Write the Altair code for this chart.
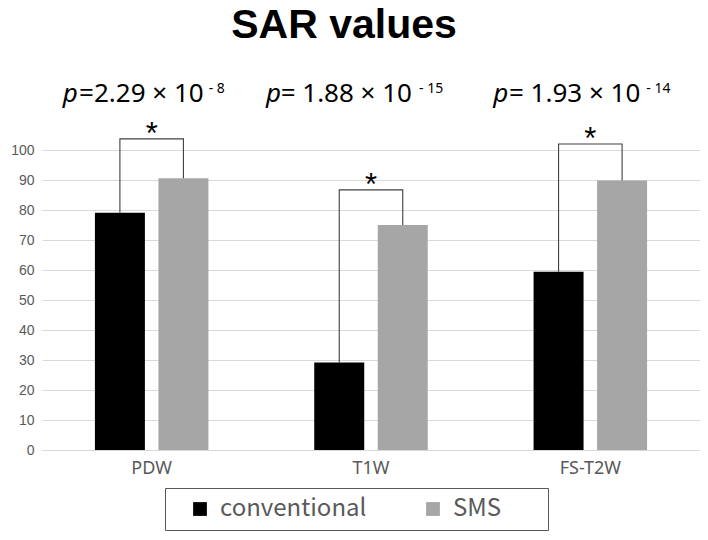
import altair as alt
import pandas as pd

categories = ["PDW", "T1W", "FS-T2W"]
series = ["conventional", "SMS"]
conventional = [79.1, 29.2, 59.4]
sms = [90.6, 75.0, 89.8]
bracket_top = [103.7, 86.7, 102.0]
p_mantissa = ["=2.29 × 10", "= 1.88 × 10", "= 1.93 × 10"]
p_exponent = ["- 8", "- 15", "- 14"]
p_label_level = [116.1, 116.1, 116.1]
y_ticks = list(range(0, 101, 10))

bars = pd.DataFrame(
    [{"category": c, "series": "conventional", "value": v} for c, v in zip(categories, conventional)]
    + [{"category": c, "series": "SMS", "value": v} for c, v in zip(categories, sms)]
)

bracket_rows = []
for c, cv, sv, bt in zip(categories, conventional, sms, bracket_top):
    bracket_rows += [
        {"category": c, "series": "conventional", "y": cv, "order": 0},
        {"category": c, "series": "conventional", "y": bt, "order": 1},
        {"category": c, "series": "SMS", "y": bt, "order": 2},
        {"category": c, "series": "SMS", "y": sv, "order": 3},
    ]
brackets = pd.DataFrame(bracket_rows)

stars = pd.DataFrame({"category": categories, "y": bracket_top, "star": ["*"] * 3})
plabels = pd.DataFrame({"category": categories, "y": p_label_level,
                        "mant": p_mantissa, "exp": p_exponent, "p": ["p"] * 3})

AXFONT = "Liberation Sans"
PFONT = "Noto Sans"
GREY = "#595959"

x_axis = alt.Axis(title=None, labelAngle=0, ticks=False, domain=True, domainColor="#d9d9d9",
                  labelFontSize=18, labelColor=GREY, labelFont="Noto Sans", labelPadding=9)
y_axis = alt.Axis(title=None, values=y_ticks, grid=True, gridColor="#d9d9d9", domain=False,
                  ticks=False, labelFontSize=14, labelColor=GREY, labelFont=AXFONT,
                  labelPadding=8, labelOverlap=False)
x_scale = alt.Scale(paddingInner=0, paddingOuter=0)
y_scale = alt.Scale(domain=[0, 120], nice=False)
xoff_scale = alt.Scale(domain=series, paddingInner=0.213, paddingOuter=0.833)


def X():
    return alt.X("category:N", sort=categories, scale=x_scale, axis=x_axis)


def Y(field):
    return alt.Y(field, scale=y_scale, axis=y_axis)


sms_label = "SMS" + "\u00a0" * 7 + "\u200b"

bar_layer = alt.Chart(bars).mark_bar().encode(
    x=X(),
    xOffset=alt.XOffset("series:N", sort=series, scale=xoff_scale),
    y=Y("value:Q"),
    color=alt.Color("series:N", sort=series,
                    scale=alt.Scale(domain=series, range=["#000000", "#a6a6a6"]),
                    legend=alt.Legend(orient="none", legendX=123, legendY=398, direction="horizontal",
                                      title=None, symbolType="square", symbolSize=190,
                                      symbolStrokeWidth=0, labelFontSize=24, labelColor=GREY,
                                      labelFont="Noto Sans CJK JP", strokeColor="#595959", padding=9,
                                      columnPadding=40, symbolOffset=14, labelOffset=8, labelLimit=400,
                                      labelExpr="datum.label == 'SMS' ? '" + sms_label + "' : datum.label")),
)

bracket_layer = alt.Chart(brackets).mark_line(color="#404040", strokeWidth=1.1).encode(
    x=X(),
    xOffset=alt.XOffset("series:N", sort=series, scale=xoff_scale, bandPosition=0.5),
    y=Y("y:Q"),
    detail="category:N",
    order="order:Q",
)

star_layer = alt.Chart(stars).mark_text(fontSize=31, font="Liberation Sans", baseline="alphabetic",
                                        dy=5, color="#000000").encode(
    x=X(),
    y=Y("y:Q"),
    text="star:N",
)

# per-category horizontal offsets of the parts of each p-value label (style only)
p_start = {"PDW": -89, "T1W": -105, "FS-T2W": -97}
mant_end = {"PDW": 52, "T1W": 41, "FS-T2W": 50}
exp_start = {"PDW": 57, "T1W": 48, "FS-T2W": 56}

p_layers = []
for c in categories:
    base = alt.Chart(plabels).transform_filter(alt.datum.category == c)
    p_layers.append(base.mark_text(fontSize=26, font=PFONT, baseline="alphabetic", align="left",
                                   dx=p_start[c], fontStyle="italic", color="#000000")
                    .encode(x=X(), y=Y("y:Q"), text="p:N"))
    p_layers.append(base.mark_text(fontSize=26, font=PFONT, baseline="alphabetic", align="right",
                                   dx=mant_end[c], color="#000000")
                    .encode(x=X(), y=Y("y:Q"), text="mant:N"))
    p_layers.append(base.mark_text(fontSize=14, font=PFONT, baseline="alphabetic", align="left",
                                   dx=exp_start[c], dy=-9, color="#000000")
                    .encode(x=X(), y=Y("y:Q"), text="exp:N"))

chart = alt.layer(bar_layer, bracket_layer, star_layer, *p_layers).properties(
    width=658, height=360,
    autosize=alt.AutoSizeParams(type="none"),
    padding={"left": 34, "top": 82, "right": 0, "bottom": 82},
    title=alt.TitleParams("SAR values", fontSize=41, fontWeight="bold", font="Liberation Sans",
                          anchor="middle", dx=-27, offset=34, color="#000000"),
).configure_view(stroke=None)

chart.save("out.html", embed_options={"renderer": "svg", "actions": False})
